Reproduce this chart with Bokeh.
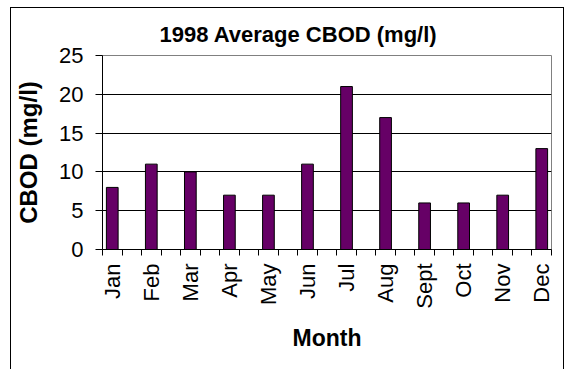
import math
from bokeh.plotting import figure
from bokeh.models import Range1d, FixedTicker, CustomJSTickFormatter, ColumnDataSource
from bokeh.embed import file_html
from bokeh.resources import INLINE

# ---- data ----
months = ["Jan", "Feb", "Mar", "Apr", "May", "Jun", "Jul", "Aug", "Sept", "Oct", "Nov", "Dec"]
cbod = [8, 11, 10, 7, 7, 11, 21, 17, 6, 6, 7, 13]
y_ticks = [0, 5, 10, 15, 20, 25]
title_text = "1998 Average CBOD (mg/l)"
x_title = "Month"
y_title = "CBOD (mg/l)"

# category slots: each month followed by an empty slot (Excel-like layout)
n_slots = 2 * len(months) - 1
slot_centers = [2 * i + 0.5 for i in range(len(months))]

src = ColumnDataSource(dict(x=slot_centers, top=cbod, month=months))

FONT = "Liberation Sans"

p = figure(width=554, height=362, output_backend="svg", toolbar_location=None,
           x_range=Range1d(0, n_slots), y_range=Range1d(0, 25),
           min_border_left=91, min_border_right=14, min_border_top=47, min_border_bottom=121)
p.styles = {"border": "1px solid #000000", "border-bottom": "none",
            "margin-left": "10px", "margin-top": "7px"}
p.background_fill_color = "white"
p.border_fill_color = "white"
p.outline_line_color = "#808080"
p.outline_line_width = 1

p.vbar(x="x", top="top", bottom=0, width=0.6, source=src,
       fill_color="#660066", line_color="#000000", line_width=1)

# title
p.title.text = title_text
p.title.text_font = FONT
p.title.text_font_size = "22px"
p.title.text_font_style = "bold"
p.title.text_color = "#000000"
p.title.align = "left"
p.title.vertical_align = "top"
p.title.offset = 57
p.title.standoff = 14

# x axis
xa = p.xaxis[0]
xa.ticker = FixedTicker(ticks=slot_centers, minor_ticks=list(range(n_slots + 1)))
xa.formatter = CustomJSTickFormatter(args=dict(months=months),
                                     code="return months[Math.round((tick - 0.5) / 2)];")
xa.major_label_orientation = math.pi / 2
xa.major_tick_out = 0
xa.major_tick_in = 0
xa.minor_tick_out = 6
xa.minor_tick_in = 0
xa.minor_tick_line_color = "#000000"
xa.major_label_standoff = 8
xa.major_label_text_font = FONT
xa.major_label_text_font_size = "22px"
xa.major_label_text_color = "#000000"
xa.axis_label = x_title
xa.axis_label_text_font = FONT
xa.axis_label_text_font_size = "23px"
xa.axis_label_text_font_style = "bold"
xa.axis_label_text_color = "#000000"
xa.axis_label_standoff = 13
xa.axis_line_color = "#000000"

# y axis
ya = p.yaxis[0]
ya.ticker = FixedTicker(ticks=y_ticks)
ya.major_tick_out = 7
ya.major_tick_in = 0
ya.minor_tick_out = 0
ya.minor_tick_in = 0
ya.major_label_standoff = 12
ya.major_label_text_font = FONT
ya.major_label_text_font_size = "22px"
ya.major_label_text_color = "#000000"
ya.axis_label = y_title
ya.axis_label_text_font = FONT
ya.axis_label_text_font_size = "24px"
ya.axis_label_text_font_style = "bold"
ya.axis_label_text_color = "#000000"
ya.axis_label_standoff = 14
ya.axis_line_color = "#000000"

p.xgrid.grid_line_color = None
p.ygrid.grid_line_color = "#000000"
p.ygrid.grid_line_width = 1

open("out.html", "w").write(file_html(p, INLINE))
